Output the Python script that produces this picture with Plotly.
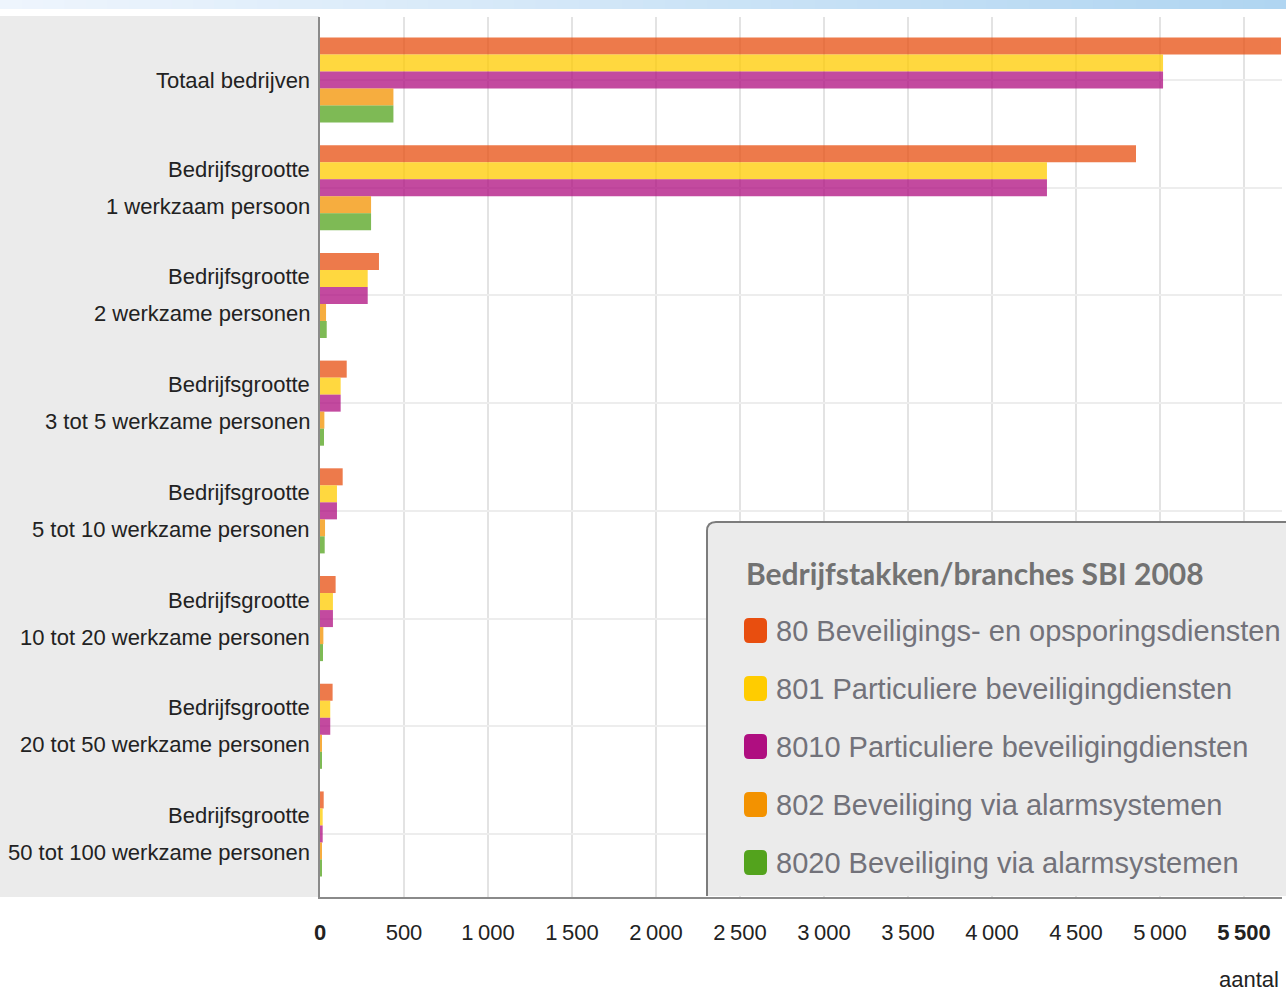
import plotly.graph_objects as go

# Categories (top to bottom) and counts per branch
categories = [
    "Totaal bedrijven",
    "Bedrijfsgrootte<br>1 werkzaam persoon",
    "Bedrijfsgrootte<br>2 werkzame personen",
    "Bedrijfsgrootte<br>3 tot 5 werkzame personen",
    "Bedrijfsgrootte<br>5 tot 10 werkzame personen",
    "Bedrijfsgrootte<br>10 tot 20 werkzame personen",
    "Bedrijfsgrootte<br>20 tot 50 werkzame personen",
    "Bedrijfsgrootte<br>50 tot 100 werkzame personen",
]
series_names = [
    "80 Beveiligings- en opsporingsdiensten",
    "801 Particuliere beveiligingdiensten",
    "8010 Particuliere beveiligingdiensten",
    "802 Beveiliging via alarmsystemen",
    "8020 Beveiliging via alarmsystemen",
]
v80 = [5720, 4857, 351, 159, 135, 93, 75, 22]
v801 = [5018, 4327, 284, 123, 101, 77, 61, 16]
v8010 = [5018, 4327, 284, 123, 101, 77, 61, 16]
v802 = [437, 304, 36, 26, 30, 20, 12, 10]
v8020 = [437, 304, 40, 24, 28, 18, 12, 8]
series_values = [v80, v801, v8010, v802, v8020]
series_colors = ["#E84E0F", "#FFCC00", "#AF0E80", "#F39200", "#53A31D"]

x_tickvals = [0, 500, 1000, 1500, 2000, 2500, 3000, 3500, 4000, 4500, 5000, 5500]
x_ticktext = ["<b>0</b>", "500", "1\u2009000", "1\u2009500", "2\u2009000", "2\u2009500",
              "3\u2009000", "3\u2009500", "4\u2009000", "4\u2009500", "5\u2009000",
              "<b>5\u2009500</b>"]

W, H = 1286, 993
PL, PR, PT, PB = 320, 1282, 17, 897
LABEL_FONT = "Liberation Sans, Arial, sans-serif"


def px(x):
    return (x - PL) / (PR - PL)


def py(y):
    return (PB - y) / (PB - PT)


fig = go.Figure()
for name, vals, col in zip(series_names, series_values, series_colors):
    fig.add_trace(go.Bar(
        y=categories, x=vals, name=name, orientation="h",
        marker=dict(color=col, line=dict(width=0)), opacity=0.75,
        showlegend=False,
    ))

shapes = []
# light-blue header band
n = 60
c0, c1 = (238, 245, 253), (176, 213, 241)
for i in range(n):
    t = i / (n - 1)
    c = tuple(int(round(a + (b - a) * t)) for a, b in zip(c0, c1))
    shapes.append(dict(type="rect", xref="paper", yref="paper",
                       x0=px(i * W / n), x1=px((i + 1) * W / n + 1),
                       y0=py(9), y1=py(0), line=dict(width=0),
                       fillcolor="rgb(%d,%d,%d)" % c, layer="below"))
# grey label panel
shapes.append(dict(type="rect", xref="paper", yref="paper",
                   x0=px(0), x1=px(319), y0=py(897), y1=py(16),
                   line=dict(width=0), fillcolor="#EBEBEB", layer="below"))

# legend panel
bx0, by0, bx1, by1, r = 707, 522, 1292, 896, 9


def P(x, y):
    return "%f,%f" % (px(x), py(y))


box = ("M " + P(bx0, by1) + " L " + P(bx0, by0 + r) + " Q " + P(bx0, by0) + " " + P(bx0 + r, by0)
       + " L " + P(bx1, by0) + " L " + P(bx1, by1) + " Z")
shapes.append(dict(type="path", xref="paper", yref="paper", path=box,
                   fillcolor="#EBEBEB", line=dict(width=0), layer="above"))
edge = ("M " + P(bx0, by1) + " L " + P(bx0, by0 + r) + " Q " + P(bx0, by0) + " " + P(bx0 + r, by0)
        + " L " + P(bx1, by0))
shapes.append(dict(type="path", xref="paper", yref="paper", path=edge,
                   line=dict(color="#7C7C7C", width=2), layer="above"))

annotations = [dict(xref="paper", yref="paper", x=px(744), y=py(573),
                    xanchor="left", yanchor="middle", showarrow=False,
                    text="<b>Bedrijfstakken/branches SBI 2008</b>",
                    font=dict(family="Lato, sans-serif", size=30, color="#727272"))]
row_y0, row_dy = 631, 58
for i, (name, col) in enumerate(zip(series_names, series_colors)):
    yc = row_y0 + i * row_dy
    sx0, sx1, sy0, sy1, sr = 744, 767, yc - 13, yc + 12, 5
    sw = ("M " + P(sx0 + sr, sy0) + " L " + P(sx1 - sr, sy0) + " Q " + P(sx1, sy0) + " " + P(sx1, sy0 + sr)
          + " L " + P(sx1, sy1 - sr) + " Q " + P(sx1, sy1) + " " + P(sx1 - sr, sy1)
          + " L " + P(sx0 + sr, sy1) + " Q " + P(sx0, sy1) + " " + P(sx0, sy1 - sr)
          + " L " + P(sx0, sy0 + sr) + " Q " + P(sx0, sy0) + " " + P(sx0 + sr, sy0) + " Z")
    shapes.append(dict(type="path", xref="paper", yref="paper", path=sw,
                       fillcolor=col, line=dict(width=0), layer="above"))
    annotations.append(dict(xref="paper", yref="paper", x=px(774), y=py(yc),
                            xanchor="left", yanchor="middle", showarrow=False,
                            text=name,
                            font=dict(family=LABEL_FONT, size=29, color="#72727A")))

# category labels, one annotation per line for a wider line spacing
LINE_GAP = 37
for cat in categories:
    lines = cat.split("<br>")
    k = len(lines)
    for j, line in enumerate(lines):
        shift = ((k - 1) / 2 - j) * LINE_GAP
        annotations.append(dict(xref="paper", yref="y", x=px(312), y=cat,
                                xanchor="right", yanchor="middle", showarrow=False,
                                yshift=shift, text=line,
                                font=dict(family=LABEL_FONT, size=22, color="#222")))

annotations.append(dict(xref="paper", yref="paper", x=px(1281), y=py(979),
                        xanchor="right", yanchor="middle", showarrow=False,
                        text="aantal", font=dict(family=LABEL_FONT, size=22, color="#222")))

fig.update_layout(
    width=W, height=H,
    margin=dict(l=PL, r=W - PR, t=PT, b=H - PB, pad=0, autoexpand=False),
    paper_bgcolor="white", plot_bgcolor="white",
    barmode="group", bargap=0.21, bargroupgap=0,
    shapes=shapes, annotations=annotations,
    xaxis=dict(range=[0, 5726], tickvals=x_tickvals, ticktext=x_ticktext,
               automargin=False,
               showgrid=True, gridcolor="#E3E3E3", gridwidth=2,
               zeroline=False, showline=True, linecolor="#8A8A8A", linewidth=2,
               ticks="", ticklabelstandoff=15,
               tickfont=dict(family=LABEL_FONT, size=22, color="#222")),
    yaxis=dict(type="category", range=[7.585, -0.585], automargin=False,
               showgrid=True, gridcolor="#EDEDED", gridwidth=2,
               zeroline=False, showline=True, linecolor="#8A8A8A", linewidth=2,
               ticks="", showticklabels=False),
)

fig.write_html("out.html")
